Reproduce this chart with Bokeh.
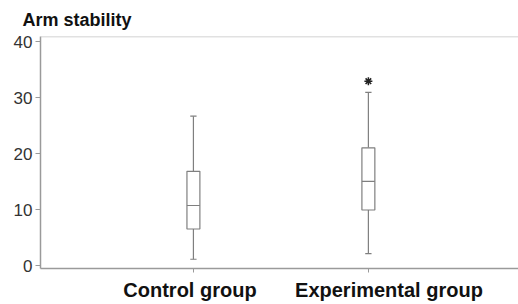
from bokeh.plotting import figure
from bokeh.models import Range1d, FixedTicker, Span, Title, LinearAxis
from bokeh.embed import file_html
from bokeh.resources import INLINE

# Data
groups = ["Control group", "Experimental group"]
positions = [1, 2]
whisker_low = [1.2, 2.2]
q1 = [6.6, 10.0]
median = [10.8, 15.1]
q3 = [16.9, 21.1]
whisker_high = [26.75, 31.0]
outlier_x = [2]
outlier_y = [33.0]
y_ticks = [0, 10, 20, 30, 40]

# styles
box_w = 0.074
cap_w = 0.036
line_col = "#7f7f7f"
y_lo, y_hi = -0.45, 40.98

p = figure(width=518, height=304, output_backend="svg", toolbar_location=None,
           x_range=Range1d(0.126, 2.858), y_range=Range1d(y_lo, y_hi),
           min_border_left=40, min_border_right=0, min_border_top=36, min_border_bottom=36)
p.background_fill_color = "white"
p.border_fill_color = "white"
p.outline_line_color = None
p.grid.visible = False

p.add_layout(Title(text="Arm stability", text_font="Liberation Sans", text_font_size="18px",
                   text_font_style="bold", text_color="#111111", align="left", offset=-18,
                   standoff=14), "above")

# whiskers
p.segment(x0=positions, y0=q3, x1=positions, y1=whisker_high, line_color=line_col, line_width=1.2)
p.segment(x0=positions, y0=whisker_low, x1=positions, y1=q1, line_color=line_col, line_width=1.2)
# caps
p.segment(x0=[x - cap_w / 2 for x in positions], y0=whisker_high,
          x1=[x + cap_w / 2 for x in positions], y1=whisker_high, line_color=line_col, line_width=1.2)
p.segment(x0=[x - cap_w / 2 for x in positions], y0=whisker_low,
          x1=[x + cap_w / 2 for x in positions], y1=whisker_low, line_color=line_col, line_width=1.2)
# boxes
p.vbar(x=positions, width=box_w, bottom=q1, top=q3, fill_color="white",
       line_color=line_col, line_width=1.2)
# medians
p.segment(x0=[x - box_w / 2 for x in positions], y0=median,
          x1=[x + box_w / 2 for x in positions], y1=median, line_color=line_col, line_width=1.2)
# outlier
p.scatter(x=outlier_x, y=outlier_y, marker="asterisk", size=8, line_color="#222222", line_width=1.5)

# top frame line
p.add_layout(Span(location=y_hi, dimension="width", line_color="#c4c4c4", line_width=1.5))

# main x axis: line and ticks only
p.xaxis.ticker = FixedTicker(ticks=positions)
p.xaxis.major_label_text_font_size = "0px"
p.xaxis.major_label_text_color = None
p.xaxis.major_label_standoff = 0
p.xaxis.minor_tick_line_color = None
p.xaxis.major_tick_in = 0
p.xaxis.major_tick_out = 4
p.xaxis.major_tick_line_color = "#9a9a9a"
p.xaxis.axis_line_color = "#9a9a9a"
p.xaxis.axis_line_width = 1.5

# label axis: group names placed slightly apart, as in the original
p.extra_x_ranges = {"labels": Range1d(0.2487, 2.651)}
lab_axis = LinearAxis(x_range_name="labels", ticker=FixedTicker(ticks=positions),
                      major_label_overrides={pos: g for pos, g in zip(positions, groups)},
                      axis_line_color=None, major_tick_line_color=None, minor_tick_line_color=None,
                      major_tick_out=0, major_tick_in=0, major_label_standoff=6,
                      major_label_text_font="Liberation Sans", major_label_text_font_size="20px",
                      major_label_text_font_style="bold", major_label_text_color="#111111")
p.add_layout(lab_axis, "below")

p.yaxis.ticker = FixedTicker(ticks=y_ticks)
p.yaxis.major_label_text_font = "Liberation Sans"
p.yaxis.major_label_text_font_size = "17px"
p.yaxis.major_label_text_color = "#333333"
p.yaxis.major_label_standoff = 3
p.yaxis.minor_tick_line_color = None
p.yaxis.major_tick_in = 0
p.yaxis.major_tick_out = 5
p.yaxis.major_tick_line_color = "#9a9a9a"
p.yaxis.axis_line_color = "#9a9a9a"
p.yaxis.axis_line_width = 1.5

open("out.html", "w").write(file_html(p, INLINE))
